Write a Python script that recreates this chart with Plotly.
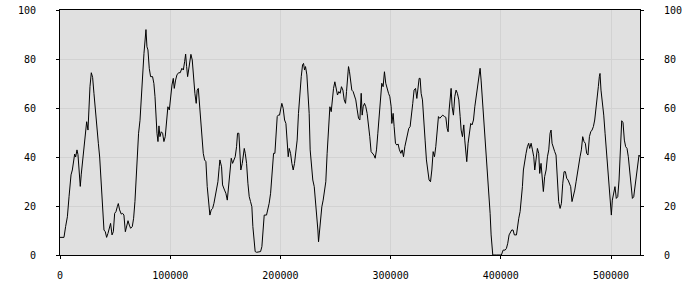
import plotly.graph_objects as go

x_vals = [
    0, 3600, 5100, 6700, 8200, 9100, 10000, 11200, 12400, 13300, 14200, 15400, 16300, 17500, 18400, 19300,
    20600, 21800, 23000, 24200, 25400, 26300, 27200, 28400, 29600, 30800, 32000, 33300, 34800, 36000, 36900,
    38100, 39000, 39900, 41100, 42300, 43500, 44700, 45900, 47200, 48400, 49600, 50800, 52000, 52900, 54100,
    55600, 56800, 58000, 59300, 60500, 61700, 62900, 64100, 65600, 66800, 68000, 68900, 70100, 71300, 72600,
    73500, 74400, 75300, 76200, 77100, 78000, 78900, 79800, 81000, 82200, 84000, 85200, 86200, 87100, 88000,
    88900, 89800, 90700, 91900, 93100, 94300, 95500, 96700, 97900, 99200, 100400, 101600, 102800, 103700,
    104900, 106100, 107600, 109100, 110600, 111900, 113100, 114000, 114900, 115800, 116700, 117600, 118800,
    120000, 121200, 122400, 123600, 124500, 125500, 126400, 127600, 128800, 130000, 131200, 132400, 133600,
    134800, 136000, 137200, 138500, 139700, 140900, 142100, 143300, 144500,
    145100, 146600, 147500, 149300, 150500, 151800, 153000, 154200, 155400, 156600, 157800, 159000, 160200,
    161100, 162300, 163200, 164100, 165400, 166300, 167200, 168100, 169300, 170500, 171700, 172900, 174100,
    175000, 175900, 177100, 178400, 180800, 182000, 183200, 184400, 185300, 187400, 188600, 189800, 191100,
    192300, 193200, 193800, 195000, 195900, 197100, 198000, 199200, 200100, 201300, 202500, 203800, 205000,
    206200, 207100, 208000, 209200, 210400, 211600, 212800, 214000, 215200, 216400, 217700, 218900, 220100,
    221000, 221900, 222800, 224000, 224900, 226100, 227000, 228200, 229400, 230700, 231900, 233100, 234000,
    234600, 235500, 236400, 237600, 238800, 240000, 241200, 242400, 243700, 244900, 246100, 247000, 248200,
    249400, 250600, 251800, 253000, 254200, 255400, 256700, 257900, 259100, 260000, 260900, 261800, 262700,
    263600, 264800, 266000, 267200, 268400, 269700, 270900, 272100, 273300, 274200, 275100, 276300, 277500,
    278700, 279900, 281100, 282300, 283600, 284800, 286000, 287200, 288400, 289600, 290800, 292000, 293200,
    294400, 295600, 296900, 298100, 299300, 300500, 301100, 302300, 303200, 304400, 305600, 306800, 308000,
    309300, 310500, 311700, 312900, 314100, 315300, 316500, 317700, 318900, 320100, 321300, 322600, 323800,
    325000, 325900, 326800, 327700, 328900, 330100, 331300, 332500, 333700, 334900, 336200, 337400, 338600,
    339800, 341000, 342200, 343400,
    344600, 346100, 347300, 348900, 350100, 351300, 352200, 353100, 354000, 354900, 355800, 357000, 358200,
    359400, 360600, 361900, 363100, 364000, 365200, 366400, 367300, 368200, 369100, 370300, 371500, 372700,
    373900, 375200, 376400, 377600, 378800, 380000, 381200, 382100, 383300, 384500, 385700, 386900, 388200,
    389400, 390300, 391200, 392100, 392700, 396000, 400500, 402100, 403900, 405100, 406300, 407500, 408700,
    409900, 411100, 412300, 414200, 415100, 416300, 417500, 418700, 419600, 420500, 421700, 422900, 424100,
    425300, 426200, 427500, 428700, 429900, 430800, 432000, 433200, 434400, 435300, 436500, 437700, 438600,
    439800, 441100, 442300, 443500, 444700, 445600, 446500, 447700, 448900, 450100, 451300, 452500, 453800,
    455000, 456200, 457400, 458600, 459800, 461000, 462200, 463400, 464600, 465800, 467100, 468300, 469500,
    470700, 471900, 473100, 474300, 475500, 476700, 477900, 479100, 480400, 481600, 482800, 484000, 485200,
    486400, 487600, 488500, 489400, 490000, 490900, 492100, 493400, 494600, 495800, 497000, 498200, 499400,
    500300, 501200, 502400, 503600, 504800, 506100, 507300, 508500, 509700, 510900, 512100, 513300, 514500,
    515700, 516900, 518100, 519400, 520600, 521800, 523000, 524200, 525400, 526300,
]

y_vals = [
    7.2, 7.2, 11.6, 15.6, 23.8, 28.6, 32.7, 34.7, 38.8, 41.2, 40, 42.9, 41, 32, 28, 33,
    38.8, 44, 48, 54.4, 51, 60.5, 68.7, 74.4, 72.5, 66, 59, 51.7, 45.6, 40, 33,
    23.8, 15, 10.2, 9.5, 7.2, 8.8, 10.9, 12.9, 8.2, 9.5, 17, 17.7, 19.7, 21, 18.4,
    16.7, 17, 16.3, 9.5, 11.6, 14, 12.2, 10.9, 11.6, 15, 21.8, 30.6, 38.8, 49.7, 55,
    60.5, 67.3, 75.5, 82.3, 89, 92, 85, 83.7, 76.2, 72.8, 72.8, 70, 64.6, 55.8, 49.7,
    46.3, 52.7, 48.3, 50.3, 49.7, 46.3, 48.3, 55.8, 60.5, 59.2, 65.3, 69.4, 72.1, 68,
    71.4, 73.5, 74.4, 74.4, 76.2, 75.5, 78.9, 82, 76.9, 72.8, 75.5, 78.2, 81.9,
    79.6, 71.4, 66, 61.9, 67.3, 68, 61.9, 56.5, 49.7, 41.5, 38.8, 38.1, 27.9,
    21.1, 16.3, 18.4, 19, 21.1, 23.8, 25.9, 29.9, 36,
    38.8, 36, 28.6, 26.5, 25.2, 22.4, 28.6, 36, 39.5, 37.4, 39, 40.1, 44.2,
    49.7, 49.7, 42.9, 34.7, 37.4, 40.1, 43.5, 41.5, 37.4, 29.3, 23.8, 21.8, 19.7,
    11.6, 6.1, 1.4, 1.1, 1.1, 1.4, 3.4, 10.2, 16.3, 16.3, 18.4, 21.1, 25.2,
    32, 37.4, 41.5, 41.5, 46.9, 56.5, 57.1, 57.1, 59.2, 61.9, 59.9, 55.1, 53.7,
    44.2, 40.1, 43.5, 41.5, 37.4, 34.7, 37.4, 42.9, 46.9, 57.8, 67.3, 72.8, 77.6,
    78.2, 75.5, 76.9, 73.5, 67.3, 57.8, 42.9, 34.7, 30.6, 27.9, 22.4, 15.6, 10.2,
    5.4, 10.2, 14.3, 19.7, 22.4, 25.9, 29.9, 41.5, 49.7, 60.5, 58.5, 63.3, 68,
    70.7, 67.3, 65.3, 66.7, 66, 68.7, 67.3, 63.3, 61.9, 66.7, 72.1, 76.9, 74.8,
    70.7, 67.3, 66.7, 64.6, 63.3, 59.2, 55.8, 55.1, 66, 57.1, 60.5, 61.9, 60.5,
    57.8, 53.7, 48.3, 42.2, 41.5, 40.8, 39.5, 42.9, 49.7, 57.8, 66, 70.1, 68.7,
    74.8, 70.1, 67.3, 66, 64.6, 60.5, 53.7, 57.8, 52.4, 45.6, 44.9, 45.3, 42.9,
    41.5, 42.9, 40.1, 44.2, 46.9, 49.7, 51.7, 52.4, 56.5, 61.9, 67.3, 68, 63.9,
    68.7, 72.1, 72.1, 66, 63.3, 56.5, 46.9, 38.8, 34.7, 30.6, 29.9, 34.7, 42.2,
    40.1, 44.2, 52.4, 56.5,
    55.8, 56.5, 57.1, 56.5, 56.2, 51.7, 50.3, 59.2, 64.6, 68, 60.5, 57.1, 64.6,
    67.3, 66, 63.3, 56.5, 51, 48.3, 53.1, 46.9, 41.5, 38.1, 45.6, 49.7, 53.7,
    53.1, 55.1, 60.5, 64.6, 68, 73.5, 76.2, 71.4, 63.3, 59.2, 49.7, 40.1, 34,
    25.2, 17, 8.2, 2, 0, 0, 0, 2, 2, 2.7, 4.8, 8.2, 9.5,
    10.2, 10.2, 8.2, 8.2, 11.6, 15, 17.7, 22.4, 27.9, 34.7, 38.8, 41.5, 44.2,
    45.6, 43.5, 45.6, 42.9, 40.1, 34.7, 40.1, 43.5, 41.5, 33.3, 37.4, 29.3, 25.9,
    32, 34.7, 40.1, 42.9, 49.7, 51, 45.6, 43.5, 42.2, 40.8, 30.6, 21.8, 19,
    21.1, 29.3, 34, 34, 31.3, 30.6, 29.3, 27.9, 21.8, 23.8, 26.5, 29.9, 34,
    37.4, 40.1, 42.9, 48.3, 46.3, 45.6, 41.5, 40.8, 48.3, 50.3, 51, 52.4, 55.1,
    59.2, 64.6, 68.7, 72.8, 74.1, 67.3, 63.3, 57.1, 49.7, 42.9, 37.4, 30.6, 21.1,
    16.3, 22.4, 25.9, 27.9, 23.1, 23.8, 30.6, 44.2, 54.8, 54, 46.9, 44.2, 43.5,
    40.1, 34.7, 29.3, 23.1, 23.8, 27.9, 33.3, 35.4, 40.8, 40.1,
]

x_ticks = [0, 100000, 200000, 300000, 400000, 500000]
y_ticks = [0, 20, 40, 60, 80, 100]

FONT = dict(family="DejaVu Sans Mono", size=10, color="#000000")
GRID = "#d2d2d2"

fig = go.Figure()
fig.add_trace(go.Scatter(x=x_vals, y=y_vals, mode="lines",
                         line=dict(color="#000000", width=1), showlegend=False,
                         hoverinfo="skip"))
fig.add_trace(go.Scatter(x=x_vals, y=y_vals, mode="lines", yaxis="y2",
                         line=dict(color="rgba(0,0,0,0)", width=0), showlegend=False,
                         hoverinfo="skip"))

fig.update_layout(
    width=700, height=300,
    margin=dict(l=60, r=60, t=10, b=45, autoexpand=False),
    paper_bgcolor="#ffffff",
    plot_bgcolor="#e0e0e0",
    font=FONT,
    xaxis=dict(range=[0, 526300], tickvals=x_ticks, ticktext=[str(v) for v in x_ticks],
               showgrid=True, gridcolor=GRID, gridwidth=1, zeroline=False,
               showline=True, linecolor="#000000", linewidth=1, mirror=True,
               ticks="outside", ticklen=3, tickcolor="#000000", automargin=False,
               ticklabelstandoff=8, tickfont=FONT),
    yaxis=dict(range=[0, 100], tickvals=y_ticks, ticktext=[str(v) for v in y_ticks],
               showgrid=True, gridcolor=GRID, gridwidth=1, zeroline=False,
               showline=True, linecolor="#000000", linewidth=1,
               ticks="outside", ticklen=3, tickcolor="#000000", automargin=False,
               ticklabelstandoff=18, tickfont=FONT),
    yaxis2=dict(range=[0, 100], tickvals=y_ticks, ticktext=[str(v) for v in y_ticks],
                overlaying="y", side="right", showgrid=False, zeroline=False,
                showline=True, linecolor="#000000", linewidth=1,
                ticks="outside", ticklen=3, tickcolor="#000000", automargin=False,
                ticklabelstandoff=18, tickfont=FONT),
)

fig.write_html("out.html")
